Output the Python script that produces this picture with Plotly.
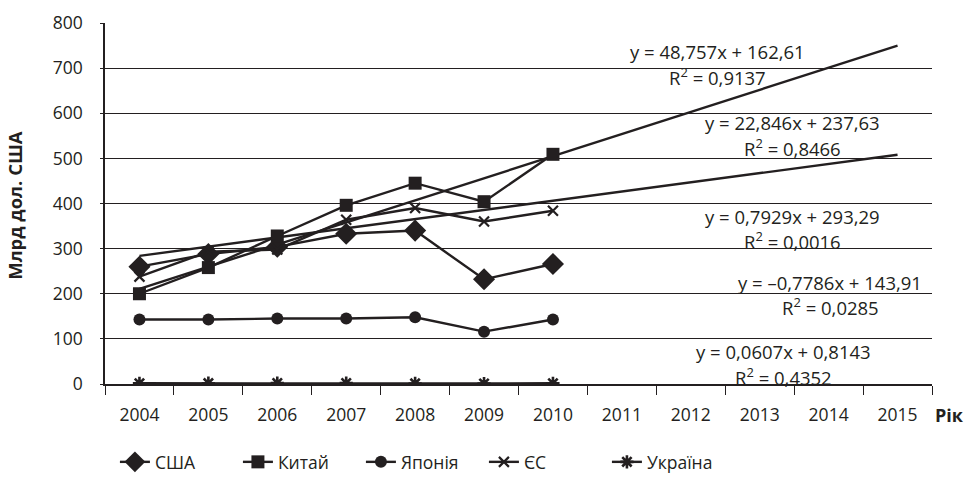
import plotly.graph_objects as go

years = [2004, 2005, 2006, 2007, 2008, 2009, 2010]
all_years = list(range(2004, 2016))
usa = [260, 288, 304, 333, 340, 232, 266]
china = [200, 258, 328, 396, 445, 404, 509]
japan = [143, 143, 145, 145, 148, 116, 143]
eu = [238, 293, 298, 364, 390, 360, 384]
ukraine = [1.5, 1.8, 2.0, 2.0, 1.2, 1.0, 1.5]

trend_x = [2004, 2015]
china_trend = [211, 750]
eu_trend = [284, 508]

eq_texts = [
    "y = 48,757x + 162,61", "R<sup>2</sup> = 0,9137",
    "y = 22,846x + 237,63", "R<sup>2</sup> = 0,8466",
    "y = 0,7929x + 293,29", "R<sup>2</sup> = 0,0016",
    "y = \u20130,7786x + 143,91", "R<sup>2</sup> = 0,0285",
    "y = 0,0607x + 0,8143", "R<sup>2</sup> = 0,4352",
]
eq_pos = [
    (2012.39, 736), (2012.39, 681),
    (2013.48, 579), (2013.48, 525),
    (2013.47, 372), (2013.47, 319),
    (2014.02, 224), (2014.02, 171),
    (2013.34, 71), (2013.34, 16),
]

INK = "#231f20"
FONT = "Open Sans"

fig = go.Figure()

for tv in (china_trend, eu_trend):
    fig.add_trace(go.Scatter(x=trend_x, y=tv, mode="lines",
                             line=dict(color=INK, width=2.4),
                             showlegend=False, hoverinfo="skip"))

series = [
    ("США", usa, dict(symbol="diamond", size=17)),
    ("Китай", china, dict(symbol="square", size=13)),
    ("Японія", japan, dict(symbol="circle", size=12)),
    ("ЄС", eu, dict(symbol="x-thin-open", size=10, line=dict(width=2.2, color=INK))),
    ("Україна", ukraine, dict(symbol="asterisk-open", size=11, line=dict(width=2.6, color=INK))),
]
for name, vals, mk in series:
    mk = dict(mk)
    mk.setdefault("color", INK)
    fig.add_trace(go.Scatter(x=years, y=vals, name=name, mode="lines+markers",
                             line=dict(color=INK, width=2.4), marker=mk))

for (x, y), t in zip(eq_pos, eq_texts):
    fig.add_annotation(x=x, y=y, xref="x", yref="y", text=t, showarrow=False,
                       font=dict(family=FONT, size=18.5, color=INK),
                       xanchor="center", yanchor="middle")

fig.add_annotation(x=1.001, y=-0.086, xref="paper", yref="paper", text="<b>Рік</b>",
                   showarrow=False, xanchor="left", yanchor="middle",
                   font=dict(family=FONT, size=18, color=INK))
fig.add_annotation(x=-0.109, y=0.496, xref="paper", yref="paper",
                   text="<b>Млрд дол. США</b>", textangle=-90, showarrow=False,
                   xanchor="center", yanchor="middle",
                   font=dict(family=FONT, size=18.5, color=INK))

fig.update_layout(
    width=969, height=481,
    margin=dict(l=105, r=37, t=23, b=97, autoexpand=False),
    paper_bgcolor="white", plot_bgcolor="white",
    font=dict(family=FONT, size=17.5, color=INK),
    xaxis=dict(range=[2003.5, 2015.5], tickmode="array", tickvals=all_years,
               ticktext=[str(y) for y in all_years], ticks="", showgrid=False,
               zeroline=False, showline=True, linecolor=INK, linewidth=1.5,
               ticklabelstandoff=14,
               minor=dict(tickmode="array", tickvals=[y - 0.5 for y in all_years] + [2015.5],
                          ticks="outside", ticklen=9, tickcolor=INK, tickwidth=1.2,
                          showgrid=False)),
    yaxis=dict(range=[0, 800], dtick=100, showgrid=True, gridcolor=INK, gridwidth=1.2,
               zeroline=False, showline=True, linecolor=INK, linewidth=1.5,
               ticks="outside", ticklen=3, tickcolor=INK, ticklabelstandoff=14),
    legend=dict(orientation="h", x=0.012, y=-0.216, xanchor="left", yanchor="middle",
                font=dict(family=FONT, size=17.5, color=INK),
                entrywidth=78, entrywidthmode="pixels", traceorder="normal"),
    showlegend=True,
)

fig.write_html("out.html", config={"displayModeBar": False},
               post_script="document.body.style.margin='0';")
